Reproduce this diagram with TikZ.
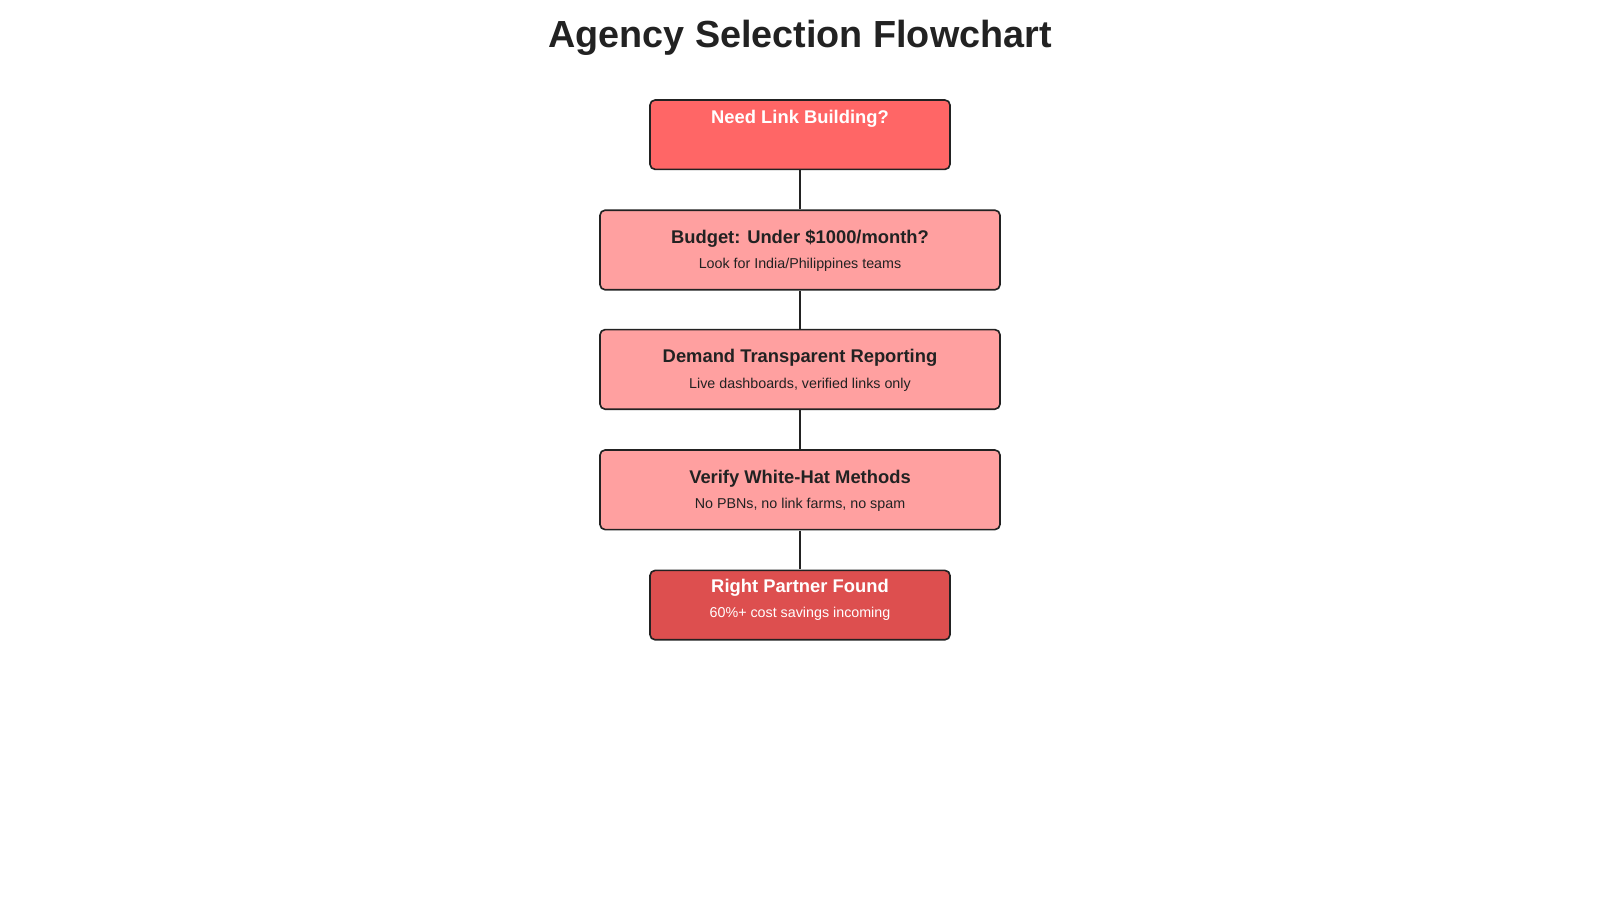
\documentclass[tikz,border=0pt]{standalone}
\usepackage{fontspec}
\setmainfont{Liberation Sans}
\definecolor{topc}{HTML}{FF6666}
\definecolor{midc}{HTML}{FFA0A0}
\definecolor{endc}{HTML}{DD4F4F}
\definecolor{ink}{HTML}{222222}
\begin{document}
\begin{tikzpicture}[x=1pt,y=-1pt,
  box/.style={draw=ink,line width=1.6pt,rounded corners=5pt},
  ttl/.style={font=\fontsize{18}{20}\selectfont\bfseries,text=ink,anchor=center,inner sep=0},
  sub/.style={font=\fontsize{14}{16}\selectfont,text=ink,anchor=center,inner sep=0},
  link/.style={draw=ink,line width=1.5pt}]
\useasboundingbox (0,0) rectangle (1568,882);
\node[font=\fontsize{37}{40}\selectfont\bfseries,text=ink] (title) at (784,37) {Agency Selection Flowchart};
\path[box,fill=topc] (637,98) rectangle (931,166);
\node[ttl,text=white] (t1) at (784,116) {Need Link Building?};
\path[box,fill=midc] (588,206) rectangle (980,284);
\node[ttl] (t2) at (784,234) {Budget: Under \$1000/month?};
\node[sub] (s2) at (784,260) {Look for India/Philippines teams};
\path[box,fill=midc] (588,323) rectangle (980,401);
\node[ttl] (t3) at (784,351) {Demand Transparent Reporting};
\node[sub] (s3) at (784,377) {Live dashboards, verified links only};
\path[box,fill=midc] (588,441) rectangle (980,519);
\node[ttl] (t4) at (784,469) {Verify White-Hat Methods};
\node[sub] (s4) at (784,495) {No PBNs, no link farms, no spam};
\path[box,fill=endc] (637,559) rectangle (931,627);
\node[ttl,text=white] (t5) at (784,576) {Right Partner Found};
\node[sub,text=white] (s5) at (784,602) {60\%+ cost savings incoming};
\coordinate (a1) at (784,167); \coordinate (b1) at (784,205);
\coordinate (a2) at (784,285); \coordinate (b2) at (784,322);
\coordinate (a3) at (784,402); \coordinate (b3) at (784,440);
\coordinate (a4) at (784,520); \coordinate (b4) at (784,558);
\draw[link] (a1) -- (b1);
\draw[link] (a2) -- (b2);
\draw[link] (a3) -- (b3);
\draw[link] (a4) -- (b4);
\end{tikzpicture}
\end{document}
